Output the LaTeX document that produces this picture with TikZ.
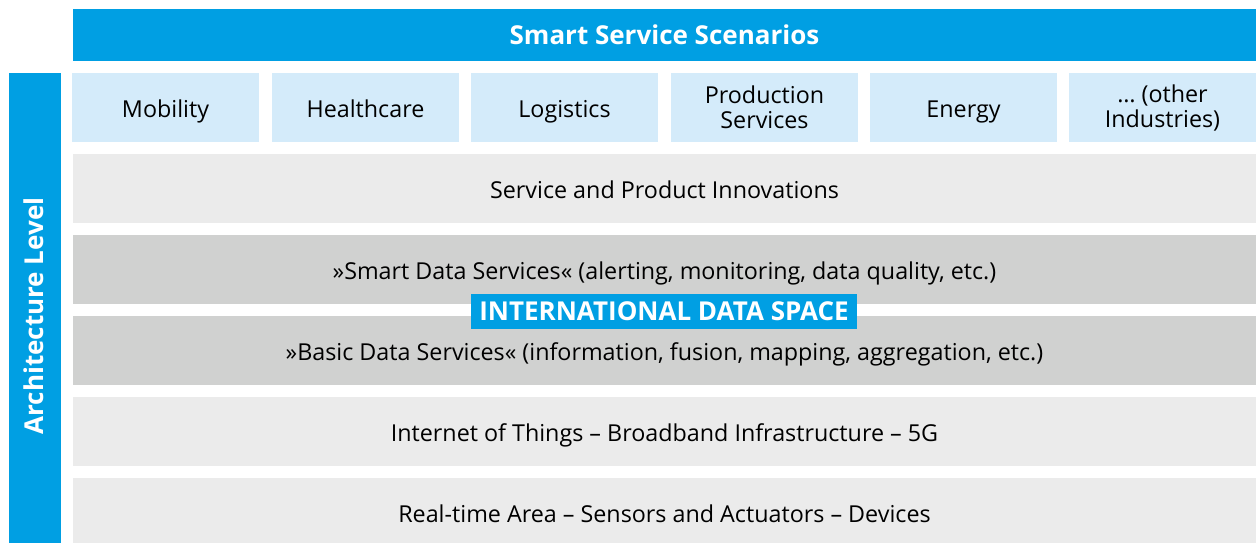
\documentclass[tikz,border=0pt]{standalone}
\usepackage{fontspec}
\setmainfont{Open Sans}
\usepackage{tikz}
\definecolor{idsblue}{HTML}{009FE3}
\definecolor{industryblue}{HTML}{D4EBFA}
\definecolor{layergray}{HTML}{EBEBEB}
\definecolor{servicegray}{HTML}{D0D1D0}

\begin{document}
\begin{tikzpicture}[x=1pt, y=-1pt,
    every node/.style={inner sep=0, font=\fontsize{23.3}{25}\selectfont},
    oneline/.style={text height=24.3pt, text depth=4.7pt},
    headbar/.style={fill=idsblue, text=white, font=\fontsize{26}{28}\selectfont\bfseries},
    industry/.style={fill=industryblue, minimum width=187, minimum height=69, align=center},
    layer/.style={oneline, fill=layergray, minimum width=1183, minimum height=69},
    servicelayer/.style={layer, fill=servicegray}]
        \useasboundingbox (0,0) rectangle (1259,543);
        % top and side bars
        \node[headbar, text height=25pt, text depth=5pt, minimum width=1183, minimum height=52] (scenarios) at (664.5,35) {Smart Service Scenarios};
        \node[headbar, text height=21pt, text depth=5pt, rotate=90, minimum width=486, minimum height=52] (archlvl) at (35,316) {Architecture Level};
        % industries
        \node[industry, oneline] (mobility) at (165.5,107.5) {Mobility};
        \node[industry, oneline] (health) at (365.5,107.5) {Healthcare};
        \node[industry, oneline] (logistics) at (564.5,107.5) {Logistics};
        \node[industry] (production) at (764.5,107.5) {Production\\Services};
        \node[industry, oneline] (energy) at (963.5,107.5) {Energy};
        \node[industry] (other) at (1162.5,107.5) {… (other\\Industries)};
        % layers
        \node[layer] (innov) at (664.5,188.5) {Service and Product Innovations};
        \node[servicelayer] (smart) at (664.5,269.5) {»Smart Data Services« (alerting, monitoring, data quality, etc.)};
        \node[servicelayer] (basic) at (664.5,350.5) {»Basic Data Services« (information, fusion, mapping, aggregation, etc.)};
        \node[layer] (iot) at (664.5,431.5) {Internet of Things – Broadband Infrastructure – 5G};
        \node[layer] (realtime) at (664.5,512.5) {Real-time Area – Sensors and Actuators – Devices};
        \node[headbar, text height=22pt, text depth=5pt, minimum width=386, minimum height=35] (ids) at (664,311.5) {INTERNATIONAL DATA SPACE};
    \end{tikzpicture}
\end{document}
